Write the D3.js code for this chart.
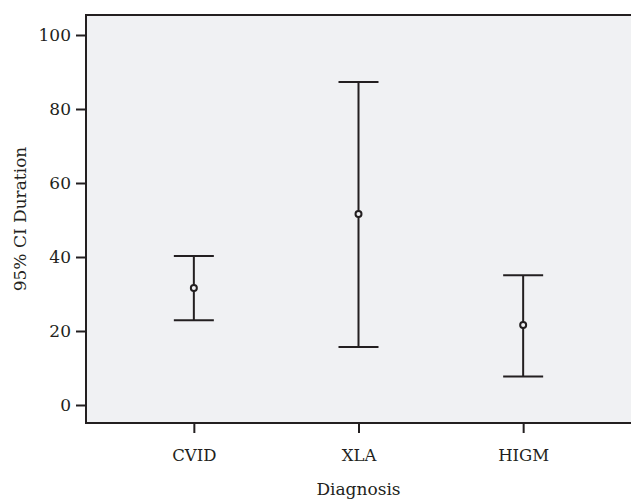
<!DOCTYPE html>
<html>
<head>
<meta charset="utf-8">
<script src="https://cdn.jsdelivr.net/npm/d3@7"></script>
<style>
  body { margin: 0; background: #fff; }
  svg { display: block; }
  text { font-family: "DejaVu Serif", serif; fill: #231f20; }
</style>
</head>
<body>
<div id="chart"></div>
<script>
// data
const categories = ['CVID', 'XLA', 'HIGM']
const means = [31.6, 51.6, 21.6]
const lower = [22.9, 15.7, 7.7]
const upper = [40.3, 87.3, 35.1]
const yTicks = [0, 20, 40, 60, 80, 100]

const width = 631
const height = 499
const plot = { left: 86, top: 15, bottom: 423, right: 640 }
const ink = '#231f20'

const svg = d3.select('#chart').append('svg')
  .attr('width', width)
  .attr('height', height)

const x = d3.scalePoint()
  .domain(categories)
  .range([plot.left, 631])
  .padding(0.655)

const y = d3.scaleLinear()
  .domain([0, 100])
  .range([405, 35])

// plot background + frame
svg.append('rect')
  .attr('x', plot.left)
  .attr('y', plot.top)
  .attr('width', plot.right - plot.left)
  .attr('height', plot.bottom - plot.top)
  .attr('fill', '#f0f1f3')
  .attr('stroke', ink)
  .attr('stroke-width', 2)

// y axis
const yAxis = svg.append('g')
  .attr('transform', `translate(${plot.left},0)`)
  .call(d3.axisLeft(y).tickValues(yTicks).tickSize(10).tickPadding(5))
yAxis.select('.domain').remove()
yAxis.selectAll('line').attr('stroke', ink).attr('stroke-width', 2)
yAxis.selectAll('text').attr('font-size', 17).attr('font-family', '"DejaVu Serif", serif').attr('fill', ink)

// x axis
const xAxis = svg.append('g')
  .attr('transform', `translate(0,${plot.bottom})`)
  .call(d3.axisBottom(x).tickSize(10).tickPadding(16))
xAxis.select('.domain').remove()
xAxis.selectAll('line').attr('stroke', ink).attr('stroke-width', 2)
xAxis.selectAll('text').attr('font-size', 16.5).attr('font-family', '"DejaVu Serif", serif').attr('fill', ink)

// error bars
const rows = categories.map((c, i) => ({ c, mean: means[i], lo: lower[i], hi: upper[i] }))
const bars = svg.append('g').selectAll('g')
  .data(rows)
  .join('g')
  .attr('stroke', ink)
  .attr('stroke-width', 2)
  .attr('fill', 'none')

bars.append('line')
  .attr('x1', d => x(d.c)).attr('x2', d => x(d.c))
  .attr('y1', d => y(d.hi)).attr('y2', d => y(d.lo))
bars.append('line')
  .attr('x1', d => x(d.c) - 20).attr('x2', d => x(d.c) + 20)
  .attr('y1', d => y(d.hi)).attr('y2', d => y(d.hi))
bars.append('line')
  .attr('x1', d => x(d.c) - 20).attr('x2', d => x(d.c) + 20)
  .attr('y1', d => y(d.lo)).attr('y2', d => y(d.lo))
bars.append('circle')
  .attr('cx', d => x(d.c))
  .attr('cy', d => y(d.mean))
  .attr('r', 3)
  .attr('fill', '#f0f1f3')

// axis titles
svg.append('text')
  .attr('x', x('XLA'))
  .attr('y', 495)
  .attr('text-anchor', 'middle')
  .attr('font-size', 17)
  .text('Diagnosis')

svg.append('text')
  .attr('transform', `translate(26,${(plot.top + plot.bottom) / 2}) rotate(-90)`)
  .attr('text-anchor', 'middle')
  .attr('font-size', 17)
  .text('95% CI Duration')
</script>
</body>
</html>
